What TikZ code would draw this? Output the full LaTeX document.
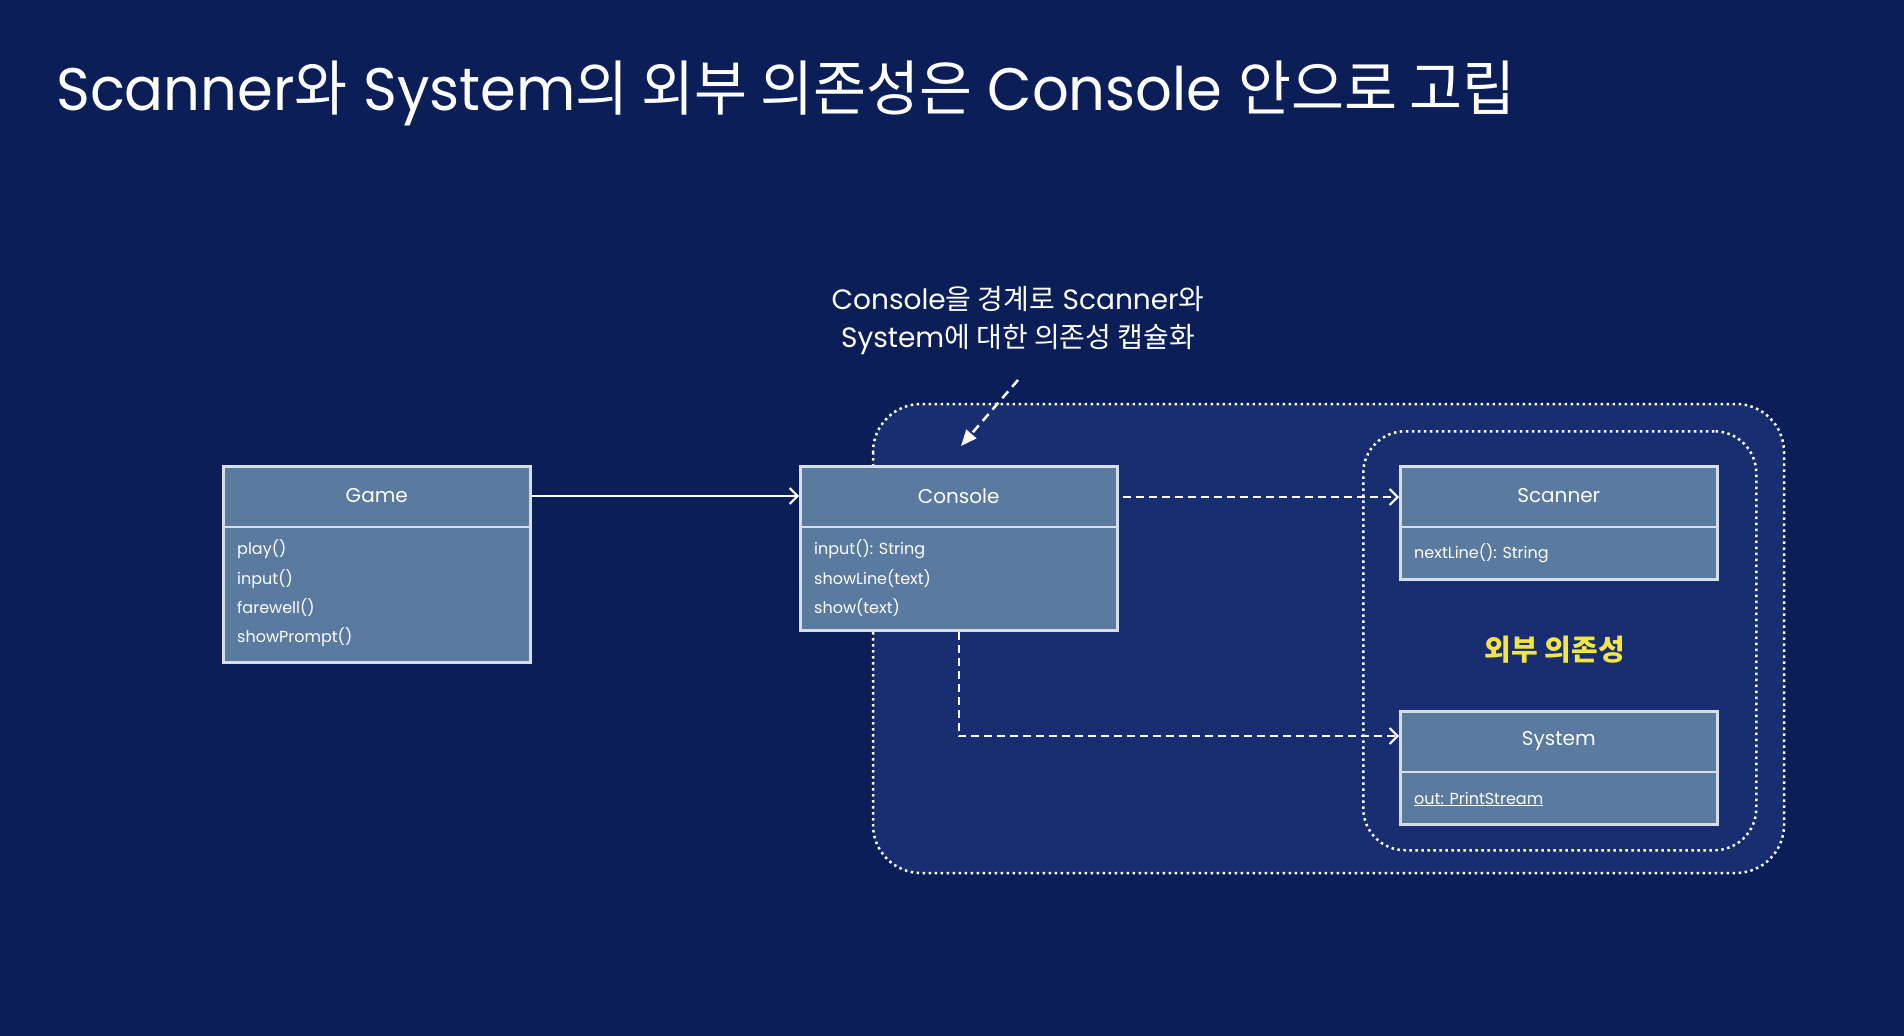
\documentclass[tikz,border=0pt]{standalone}
\usepackage{fontspec}
\setmainfont{Poppins}
\newfontfamily\kr{Noto Sans CJK KR}
\usetikzlibrary{arrows.meta,calc}
\definecolor{bgc}{HTML}{0B1E58}
\definecolor{regionc}{HTML}{182E70}
\definecolor{boxc}{HTML}{5A7AA0}
\definecolor{edgec}{HTML}{D7DEE8}
\definecolor{yel}{HTML}{F2E545}
\tikzset{
  umlbox/.style={draw=edgec, line width=2.5pt, fill=boxc, anchor=north west, inner sep=0pt},
  hdr/.style={text=white, font=\fontsize{20}{24}\selectfont, anchor=center},
  member/.style={text=white, font=\fontsize{16}{19}\selectfont, anchor=west, inner sep=0pt},
  region/.style={draw=white, fill=regionc, line width=2.5pt, dash pattern=on 2.5pt off 3.5pt},
  innerregion/.style={draw=white, line width=2.5pt, dash pattern=on 2.5pt off 3.5pt},
  solidarrow/.style={draw=white, line width=2pt, -{Straight Barb[length=8pt,width=16pt,line width=2pt]}},
  deparrow/.style={draw=white, line width=2.2pt, dash pattern=on 8pt off 5pt, -{Straight Barb[length=8pt,width=16pt,line width=2pt]}},
  notearrow/.style={draw=white, line width=2.5pt, dash pattern=on 9pt off 6pt, -{Triangle[length=16pt,width=13pt]}},
}
\begin{document}
\begin{tikzpicture}[x=1pt,y=-1pt]
\fill[bgc] (0,0) rectangle (1904,1036);
\useasboundingbox (0,0) rectangle (1904,1036);

% title
\node[anchor=base west, inner sep=0pt, text=white, font=\fontsize{60}{70}\selectfont] (title) at (56,110)
  {\scalebox{0.96}[1]{Scanner{\kr 와} System{\kr 의 외부 의존성은} Console {\kr 안으로 고립}}};

% regions
\draw[region, rounded corners=48pt] (873,404) rectangle (1784,873);
\node[inner sep=0pt, minimum width=393, minimum height=419, anchor=north west, innerregion, rounded corners=42pt] (ext) at (1362,430) {};

% Game
\node[umlbox, minimum width=307, minimum height=196] (game) at (222,465) {};
\draw[edgec, line width=2.5pt] ($(game.north west)+(0,62)$) -- ($(game.north east)+(0,62)$);
\node[hdr] (gameh) at ($(game.north)+(0,31)$) {Game};
\node[member] (g1) at (237,549) {play()};
\node[member] (g2) at (237,579) {input()};
\node[member] (g3) at (237,608) {farewell()};
\node[member] (g4) at (237,637) {showPrompt()};

% Console
\node[umlbox, minimum width=317, minimum height=164] (console) at (799,465) {};
\draw[edgec, line width=2.5pt] ($(console.north west)+(0,62)$) -- ($(console.north east)+(0,62)$);
\node[hdr] (consoleh) at ($(console.north)+(0,31)$) {Console};
\node[member] (c1) at (814,549) {input(): String};
\node[member] (c2) at (814,579) {showLine(text)};
\node[member] (c3) at (814,608) {show(text)};

% Scanner
\node[umlbox, minimum width=317, minimum height=113] (scanner) at (1399,465) {};
\draw[edgec, line width=2.5pt] ($(scanner.north west)+(0,62)$) -- ($(scanner.north east)+(0,62)$);
\node[hdr] (scannerh) at ($(scanner.north)+(0,31)$) {Scanner};
\node[member] (s1) at (1414,553) {nextLine(): String};

% System
\node[umlbox, minimum width=317, minimum height=113] (system) at (1399,710) {};
\draw[edgec, line width=2.5pt] ($(system.north west)+(0,62)$) -- ($(system.north east)+(0,62)$);
\node[hdr] (systemh) at ($(system.north)+(0,31)$) {System};
\node[member] (y1) at (1414,799) {\underline{out: PrintStream}};

% external label
\node[text=yel, font=\kr\bfseries\fontsize{29}{33}\selectfont] (extlabel) at (1555,650) {외부 의존성};

% annotation
\node[text=white, align=center, font=\fontsize{28}{38}\selectfont] (note) at (1018,321)
  {Console{\kr 을 경계로} Scanner{\kr 와}\\System{\kr 에 대한 의존성 캡슐화}};
\coordinate (notefrom) at (1018,380);
\coordinate (noteto) at (961,446);
\draw[notearrow] (notefrom) -- (noteto);

% connectors
\draw[solidarrow] (game.east |- gameh) -- (console.west |- gameh);
\draw[deparrow] ($(console.north east)+(4,32)$) -- ($(scanner.north west)+(0,32)$);
\draw[deparrow] (console.south) |- ($(system.north west)+(0,26)$);
\end{tikzpicture}
\end{document}
